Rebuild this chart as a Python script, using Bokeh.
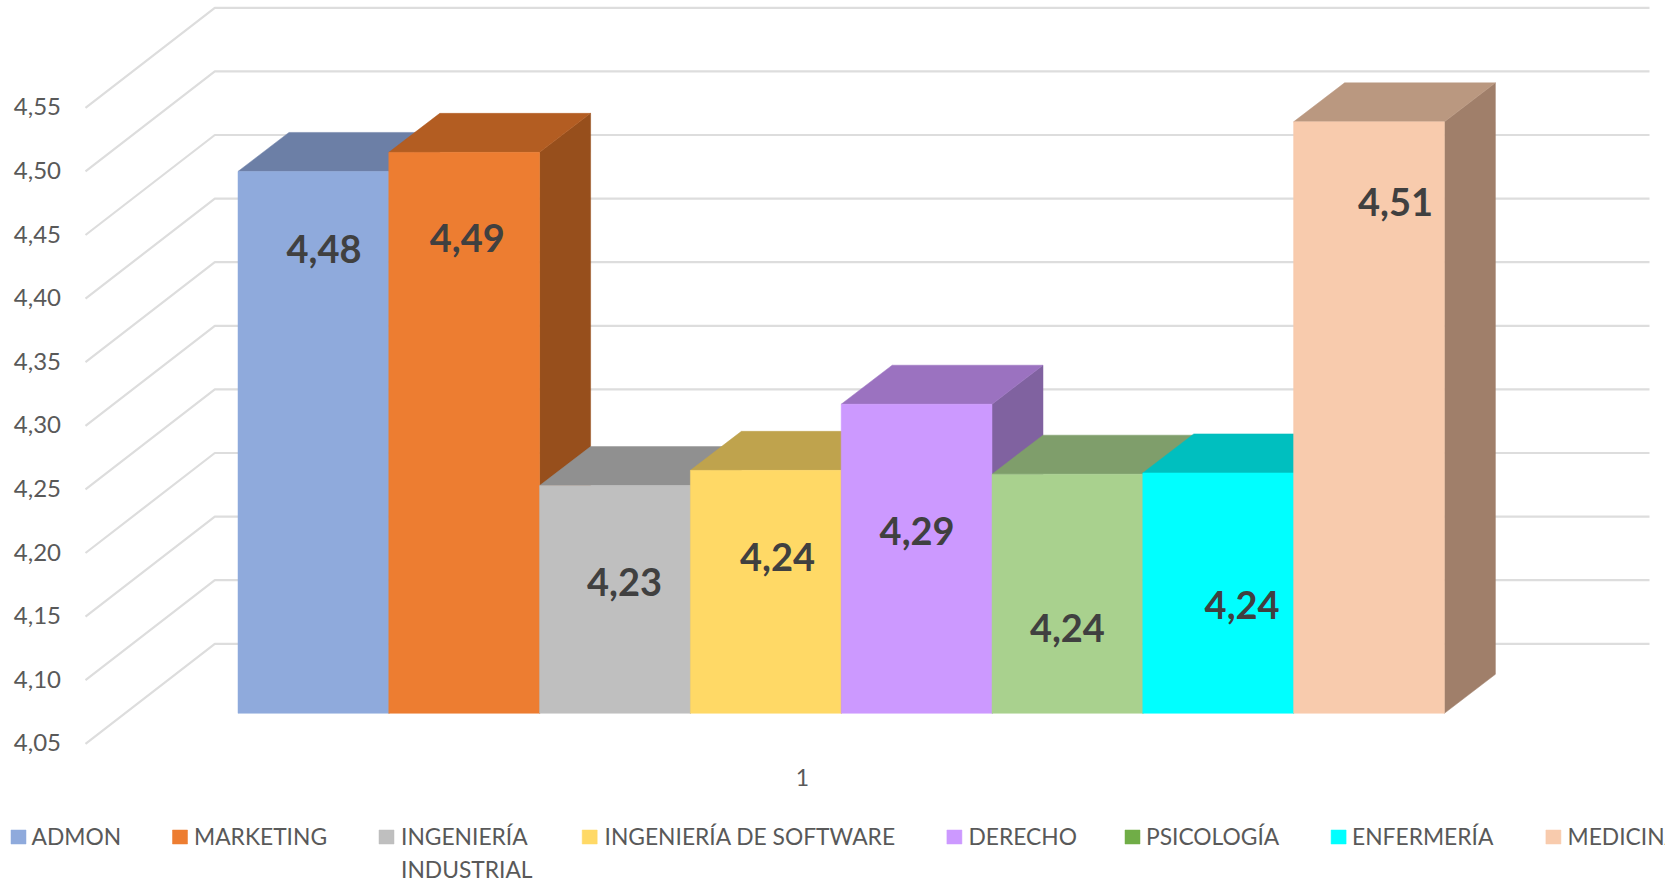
from bokeh.plotting import figure
from bokeh.embed import file_html
from bokeh.resources import INLINE
from bokeh.models import LinearAxis, FixedTicker, Range1d, ColumnDataSource
from bokeh.core.properties import value

# ---- data ----
categories = ["ADMON", "MARKETING", "INGENIERÍA\nINDUSTRIAL", "INGENIERÍA DE SOFTWARE",
              "DERECHO", "PSICOLOGÍA", "ENFERMERÍA", "MEDICINA"]
series_values = [4.476, 4.491, 4.229, 4.241, 4.293, 4.238, 4.239, 4.515]
value_labels = ["4,48", "4,49", "4,23", "4,24", "4,29", "4,24", "4,24", "4,51"]
y_ticks = [4.05, 4.10, 4.15, 4.20, 4.25, 4.30, 4.35, 4.40, 4.45, 4.50, 4.55]
y_tick_labels = ["4,05", "4,10", "4,15", "4,20", "4,25", "4,30", "4,35", "4,40", "4,45", "4,50", "4,55"]
x_tick_label = "1"

# ---- styles ----
front_colors = ["#8FAADC", "#ED7D31", "#BFBFBF", "#FFD966", "#CC99FF", "#A9D18E", "#00FFFF", "#F8CBAD"]
top_colors = ["#6C7FA6", "#B35D22", "#909090", "#BFA34D", "#9B72C0", "#7F9E6B", "#00BFBF", "#BA9880"]
side_colors = ["#5A6B8B", "#974F1C", "#797979", "#A18A40", "#8062A0", "#6B8559", "#00A1A1", "#A07F6A"]
legend_colors = ["#8FAADC", "#ED7D31", "#BFBFBF", "#FFD966", "#CC99FF", "#70AD47", "#00FFFF", "#F8CBAD"]
legend_swatch_px = [10.5, 172, 378.5, 581.7, 946.4, 1124.5, 1330.6, 1545.4]
legend_text_px = [31, 193.5, 400.5, 604, 968, 1145.5, 1351.5, 1567]
label_dx = [10.6, 3.1, 9.5, 11.7, 0.5, 0, 23.9, 26.5]
label_dy = [77.3, 85.7, 96.2, 86.5, 126.7, 154.3, 132.3, 80.1]

W, H = 1665, 882
BAR_X0, BAR_W = 237.5, 150.8      # px of first bar's left edge, px per bar
BASE_PX, PX_PER_UNIT = 712.8, 1272.0  # px of the 4.05 level on the bars' plane, px per unit
BASE = 4.05


def xd(px):
    return (px - BAR_X0) / BAR_W


def yd(px):
    return BASE + (BASE_PX - px) / PX_PER_UNIT


DX, DY = 51 / BAR_W, 39 / PX_PER_UNIT

p = figure(width=W, height=H, output_backend="svg", toolbar_location=None,
           x_range=Range1d(xd(0), xd(W)), y_range=Range1d(yd(H), yd(0)),
           min_border=0, outline_line_color=None, background_fill_color="white",
           x_axis_location=None, y_axis_location=None)
p.grid.visible = False

# ---- 3D walls: gridlines ----
G_FRONT_SHIFT = 30.5 / PX_PER_UNIT   # axis-plane level lies below the bar plane
G_BACK_SHIFT = 69.5 / PX_PER_UNIT    # back wall lies above the bar plane
gx, gy = [], []
for t in y_ticks:
    gx.append([xd(85), xd(214.3), xd(1649)])
    gy.append([t - G_FRONT_SHIFT, t + G_BACK_SHIFT, t + G_BACK_SHIFT])
p.multi_line(gx, gy, line_color="#DDDDDD", line_width=2.2)

# ---- bars ----
for i, v in enumerate(series_values):
    l, r = i, i + 1
    p.patch([r, r + DX, r + DX, r], [BASE, BASE + DY, v + DY, v], fill_color=side_colors[i], line_color=side_colors[i], line_width=0.5)
    p.patch([l, l + DX, r + DX, r], [v, v + DY, v + DY, v], fill_color=top_colors[i], line_color=top_colors[i], line_width=0.5)
    p.quad(left=l, right=r, bottom=BASE, top=v, fill_color=front_colors[i], line_color=front_colors[i], line_width=0.5)

# ---- data labels ----
src = ColumnDataSource(dict(x=[i + 0.5 for i in range(len(series_values))], y=series_values,
                            t=value_labels, dx=label_dx, dy=label_dy))
p.text("x", "y", text="t", x_offset="dx", y_offset="dy", source=src, text_align="center",
       text_baseline="middle", text_font=value("Lato"), text_font_style="bold",
       text_font_size="38px", text_color="#404040")

# ---- axes ----
AXIS_SHIFT = 29.5 / PX_PER_UNIT
p.extra_y_ranges["axis"] = Range1d(yd(H) + AXIS_SHIFT, yd(0) + AXIS_SHIFT)
ya = LinearAxis(y_range_name="axis", ticker=FixedTicker(ticks=y_ticks),
                major_label_overrides=dict(zip(y_ticks, y_tick_labels)),
                axis_line_color=None, major_tick_line_color=None, minor_tick_line_color=None,
                major_label_standoff=0, major_label_text_color="#595959",
                major_label_text_font="Lato", major_label_text_font_size="24px")
ya.fixed_location = xd(66.5)
p.add_layout(ya, "left")

xa = LinearAxis(ticker=FixedTicker(ticks=[xd(802)]),
                major_label_overrides={xd(802): x_tick_label},
                axis_line_color=None, major_tick_line_color=None, minor_tick_line_color=None,
                major_label_standoff=0, major_label_text_color="#595959",
                major_label_text_font="Lato", major_label_text_font_size="23px")
xa.fixed_location = yd(762)
p.add_layout(xa, "below")

# ---- legend ----
for name, c, sx, tx in zip(categories, legend_colors, legend_swatch_px, legend_text_px):
    p.quad(left=xd(sx), right=xd(sx + 15), bottom=yd(843.5), top=yd(829.5), fill_color=c, line_color=c, line_width=0.5)
    for k, line in enumerate(name.split("\n")):
        p.text([xd(tx)], [yd(835 + 33 * k)], text=[line], text_align="left", text_baseline="middle",
               text_font=value("Lato"), text_font_size="22.8px", text_color="#595959")

open("out.html", "w").write(file_html(p, INLINE))
